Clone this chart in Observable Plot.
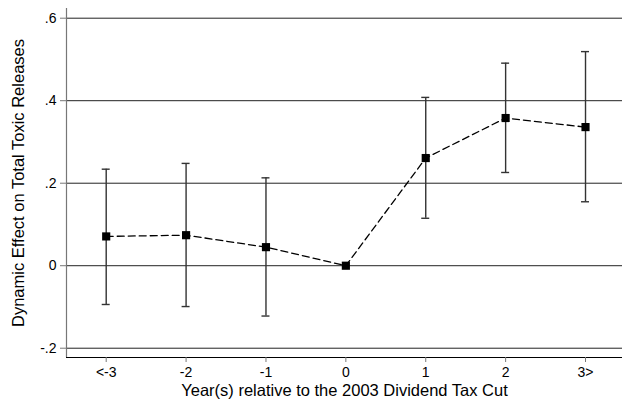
<!DOCTYPE html>
<html>
<head>
<meta charset="utf-8">
<script src="https://cdn.jsdelivr.net/npm/d3@7"></script>
<script src="https://cdn.jsdelivr.net/npm/@observablehq/plot@0.6"></script>
<style>
  body { margin: 0; background: #fff; }
  svg { display: block; }
</style>
</head>
<body>
<div id="chart"></div>
<script>
const periods = [-3, -2, -1, 0, 1, 2, 3];
const periodLabels = ["<-3", "-2", "-1", "0", "1", "2", "3>"];
const estimates = [0.071, 0.074, 0.045, 0.0, 0.261, 0.358, 0.336];
const ciLow = [-0.094, -0.099, -0.122, null, 0.115, 0.226, 0.155];
const ciHigh = [0.234, 0.248, 0.213, null, 0.408, 0.491, 0.519];
const yTicks = [-0.2, 0, 0.2, 0.4, 0.6];
const yTickLabels = ["-.2", "0", ".2", ".4", ".6"];

const data = periods.map((p, i) => ({x: p, est: estimates[i], lo: ciLow[i], hi: ciHigh[i]}));
const ci = data.filter(d => d.lo != null);

const xDomain = [-3.497, 3.463];
const yDomain = [-0.2225, 0.6235];
const capHalf = 0.05;

const xFmt = (d) => periodLabels[periods.indexOf(d)];
const yFmt = (d) => yTickLabels[yTicks.findIndex(t => Math.abs(t - d) < 1e-9)];

const chart = Plot.plot({
  width: 622,
  height: 404,
  marginLeft: 66,
  marginRight: 0,
  marginTop: 8,
  marginBottom: 47,
  style: {fontFamily: "'Liberation Sans', Arial, sans-serif", fontSize: "14px", color: "#000", background: "#fff"},
  x: {domain: xDomain},
  y: {domain: yDomain},
  marks: [
    Plot.ruleY(yTicks, {stroke: "#222", strokeWidth: 1}),
    Plot.ruleX([xDomain[0]], {stroke: "#777", strokeWidth: 1.2}),
    Plot.ruleY([yDomain[0]], {stroke: "#000", strokeWidth: 1.2}),
    Plot.axisY({ticks: yTicks, tickFormat: yFmt, tickSize: 6, tickPadding: 4, stroke: "#777", fill: "#000", fontSize: 14, label: null}),
    Plot.axisX({ticks: periods, tickFormat: xFmt, tickSize: 5, tickPadding: 5, stroke: "#777", fill: "#000", fontSize: 14, label: null}),
    Plot.text(["Year(s) relative to the 2003 Dividend Tax Cut"], {frameAnchor: "bottom", dy: 33, fontSize: 16.5, lineAnchor: "middle", fill: "#000"}),
    Plot.text(["Dynamic Effect on Total Toxic Releases"], {frameAnchor: "left", dx: -48, rotate: -90, fontSize: 16.5, textAnchor: "middle", fill: "#000"}),
    Plot.ruleX(ci, {x: "x", y1: "lo", y2: "hi", stroke: "#333", strokeWidth: 1.4}),
    Plot.ruleY(ci, {y: "lo", x1: d => d.x - capHalf, x2: d => d.x + capHalf, stroke: "#333", strokeWidth: 1.4}),
    Plot.ruleY(ci, {y: "hi", x1: d => d.x - capHalf, x2: d => d.x + capHalf, stroke: "#333", strokeWidth: 1.4}),
    Plot.line(data, {x: "x", y: "est", stroke: "#000", strokeWidth: 1.3, strokeDasharray: "7,4"}),
    Plot.dot(data, {x: "x", y: "est", symbol: "square", r: 4.6, fill: "#000", stroke: "none"})
  ]
});
document.getElementById("chart").appendChild(chart);
</script>
</body>
</html>
